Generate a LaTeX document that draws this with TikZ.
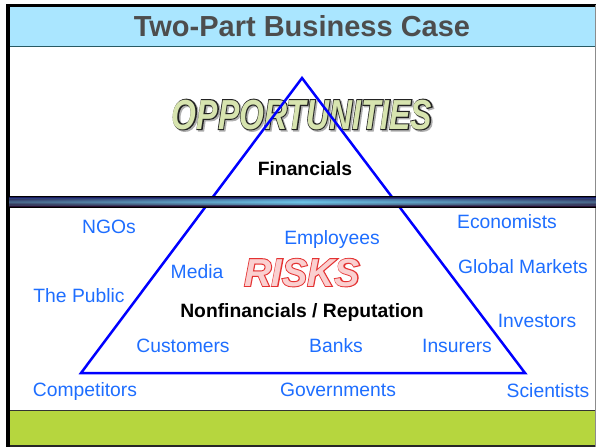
\documentclass[tikz,border=0pt]{standalone}
\usepackage{fontspec}
\setmainfont{Liberation Sans}
\newfontfamily\strokefont{Liberation Sans Bold Italic}[FakeBold=5]
\newfontfamily\fillfont{Liberation Sans Bold Italic}
\definecolor{bluetext}{RGB}{30,110,255}
\definecolor{triblue}{RGB}{0,0,255}
\definecolor{titlegray}{RGB}{77,77,77}
\definecolor{cyanband}{RGB}{170,230,255}
\definecolor{cyanline}{RGB}{40,90,100}
\definecolor{greenband}{RGB}{182,214,62}
\definecolor{oppfill}{RGB}{215,228,175}
\definecolor{oppstroke}{RGB}{35,35,35}
\definecolor{oppshade}{RGB}{175,175,175}
\definecolor{riskfill}{RGB}{250,208,208}
\definecolor{riskstroke}{RGB}{228,50,50}
\definecolor{barnavy}{RGB}{35,45,110}
\definecolor{barpurple}{RGB}{40,15,50}
\definecolor{barlight}{RGB}{110,200,235}
% outlined word: #1 stroke colour, #2 fill colour, #3 size, #4 text
\newcommand{\outlword}[4]{\makebox[0pt][l]{\color{#1}\strokefont\fontsize{#3}{#3}\selectfont #4}{\color{#2}\fillfont\fontsize{#3}{#3}\selectfont #4}}
\begin{document}
\begin{tikzpicture}[x=1pt,y=-1pt,
  stakeholder/.style={inner sep=0pt, anchor=base, text=bluetext, font=\fontsize{19.3}{22}\selectfont},
  tierlabel/.style={inner sep=0pt, anchor=base, text=black, font=\fontsize{19.3}{22}\selectfont\bfseries},
  bigword/.style={inner sep=0pt, anchor=base},
  tri/.style={draw=triblue, line width=2.5pt, line join=miter}
]
\useasboundingbox (0,0) rectangle (596,447);
\fill[white] (0,0) rectangle (596,447);
% title band
\fill[cyanband] (8,6) rectangle (596,46);
\draw[cyanline, line width=1pt] (8,46) -- (596,46);
\node[inner sep=0pt, anchor=base, text=titlegray, font=\fontsize{29}{34}\selectfont\bfseries] (title) at (302,36) {Two-Part Business Case};
% bottom green band
\fill[greenband] (8,410) rectangle (596,446);
\draw[black!80, line width=1pt] (8,410) -- (596,410);
\draw[black!85, line width=1.2pt] (8,446) -- (596,446);
% frame
\draw[black, line width=3pt] (6,5.5) -- (596,5.5);
\draw[black, line width=3.5pt] (7.75,4) -- (7.75,447);
\draw[black!45, line width=1pt] (595.5,5) -- (595.5,447);
% OPPORTUNITIES (shadow, outline and fill in one node)
\node[bigword] (opp) at (302,129) {\scalebox{0.76}[1]{\makebox[0pt][l]{\raisebox{-1.5pt}{\hspace{2pt}{\color{oppshade}\strokefont\fontsize{42}{42}\selectfont OPPORTUNITIES}}}\outlword{oppstroke}{oppfill}{42}{OPPORTUNITIES}}};
% RISKS
\node[bigword] (risks) at (302,286) {\scalebox{0.97}[1]{\outlword{riskstroke}{riskfill}{39}{RISKS}}};
% triangle
\coordinate (apex) at (302,78);
\coordinate (bl) at (81,373);
\coordinate (br) at (525,373);
\draw[tri] (apex) -- (bl) -- (br) -- cycle;
% separator bar
\fill[black] (8,196) rectangle (596,207.5);
\shade[top color=barnavy, bottom color=barpurple, middle color=barlight] (9,197.5) rectangle (596,206);
\shade[left color=barpurple, right color=barpurple, middle color=barlight, opacity=0.5] (9,199) rectangle (596,204);
% labels
\node[tierlabel] (fin) at (305,175) {Financials};
\node[tierlabel] (nonfin) at (302,317) {Nonfinancials / Reputation};
\node[stakeholder] (ngos) at (109,233) {NGOs};
\node[stakeholder] (econ) at (507,228) {Economists};
\node[stakeholder] (empl) at (332,244) {Employees};
\node[stakeholder] (glob) at (523,273) {Global Markets};
\node[stakeholder] (media) at (197,278) {Media};
\node[stakeholder] (public) at (79,302) {The Public};
\node[stakeholder] (invest) at (537,327) {Investors};
\node[stakeholder] (cust) at (183,352) {Customers};
\node[stakeholder] (banks) at (336,352) {Banks};
\node[stakeholder] (insur) at (457,352) {Insurers};
\node[stakeholder] (comp) at (85,396) {Competitors};
\node[stakeholder] (gov) at (338,396) {Governments};
\node[stakeholder] (sci) at (548,397) {Scientists};
\end{tikzpicture}
\end{document}
